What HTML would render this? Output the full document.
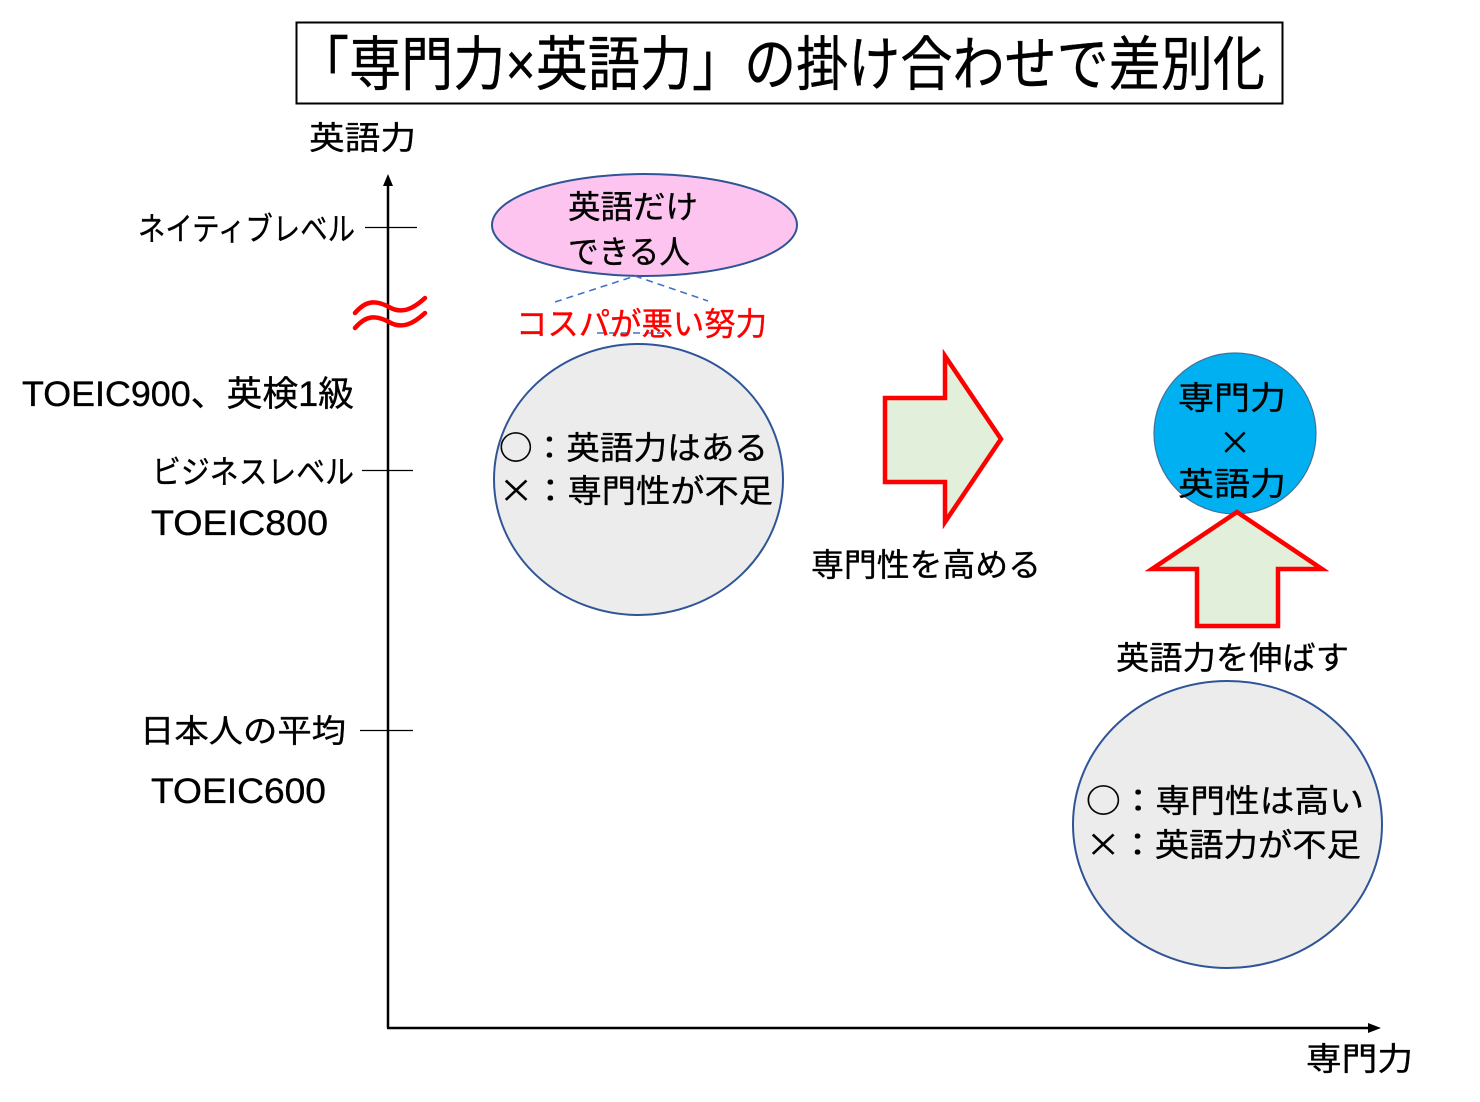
<!DOCTYPE html>
<html><head><meta charset="utf-8"><style>
html,body{margin:0;padding:0;background:#fff;}
svg{display:block;}
text{font-family:"Liberation Sans","Noto Sans CJK JP",sans-serif;fill:#000;stroke:#000;stroke-width:0.35;}
.cjk{font-family:"Noto Sans CJK JP","Liberation Sans",sans-serif;}
.red{fill:#ff0000;stroke:#ff0000;}
</style></head><body>
<svg width="1480" height="1102" viewBox="0 0 1480 1102" xmlns="http://www.w3.org/2000/svg">
<!-- title -->
<rect x="296.5" y="22.5" width="986" height="81" fill="#fff" stroke="#000" stroke-width="2"/>
<text x="297" y="85" font-size="59" textLength="968" lengthAdjust="spacingAndGlyphs">「専門力×英語力」の掛け合わせで差別化</text>

<!-- axes -->
<line x1="388" y1="184" x2="388" y2="1028" stroke="#000" stroke-width="2.5"/>
<polygon points="388,174 383,186 393,186" fill="#000"/>
<line x1="387" y1="1028" x2="1370" y2="1028" stroke="#000" stroke-width="2.5"/>
<polygon points="1381,1028 1368,1023 1368,1033" fill="#000"/>

<!-- ticks -->
<line x1="365" y1="227.5" x2="417" y2="227.5" stroke="#000" stroke-width="1.2"/>
<line x1="362" y1="470.5" x2="413" y2="470.5" stroke="#000" stroke-width="1.2"/>
<line x1="360" y1="730.5" x2="413" y2="730.5" stroke="#000" stroke-width="1.2"/>

<!-- axis labels -->
<text x="309" y="149" font-size="32" textLength="107" lengthAdjust="spacingAndGlyphs">英語力</text>
<text x="1306" y="1070" font-size="32" textLength="107" lengthAdjust="spacingAndGlyphs">専門力</text>

<!-- left labels -->
<text x="138" y="240" font-size="32" textLength="217" lengthAdjust="spacingAndGlyphs">ネイティブレベル</text>
<text x="22" y="406" font-size="35" textLength="332" lengthAdjust="spacingAndGlyphs">TOEIC900、英検1級</text>
<text x="152" y="483" font-size="32" textLength="202" lengthAdjust="spacingAndGlyphs">ビジネスレベル</text>
<text x="151" y="535" font-size="35" textLength="177" lengthAdjust="spacingAndGlyphs">TOEIC800</text>
<text x="140" y="742" font-size="32" textLength="206" lengthAdjust="spacingAndGlyphs">日本人の平均</text>
<text x="151" y="803" font-size="35" textLength="175" lengthAdjust="spacingAndGlyphs">TOEIC600</text>

<!-- squiggle -->
<path d="M355,313 C366,300 376,300 389,307 C401,314 412,310 425,298" fill="none" stroke="#ff0000" stroke-width="4.5" stroke-linecap="round"/>
<path d="M355,328 C366,315 376,315 389,322 C401,329 412,325 425,313" fill="none" stroke="#ff0000" stroke-width="4.5" stroke-linecap="round"/>

<!-- pink ellipse -->
<ellipse cx="644.5" cy="225" rx="152.5" ry="51" fill="#fcc4ee" stroke="#2f5597" stroke-width="2"/>
<text x="568" y="218" font-size="32" textLength="130" lengthAdjust="spacingAndGlyphs">英語だけ</text>
<text x="568" y="263" font-size="32" textLength="122" lengthAdjust="spacingAndGlyphs">できる人</text>

<!-- dashed callout -->
<polyline points="555,302 635,276 708,301" fill="none" stroke="#4472c4" stroke-width="1.6" stroke-dasharray="7,5"/>
<line x1="597" y1="333" x2="670" y2="333" stroke="#4472c4" stroke-width="1.6" stroke-dasharray="7,5"/>
<text class="red" x="516" y="335" font-size="32" textLength="251" lengthAdjust="spacingAndGlyphs">コスパが悪い努力</text>

<!-- gray circle 1 -->
<ellipse cx="638.5" cy="479.5" rx="144.5" ry="135.5" fill="#ececec" stroke="#2f5597" stroke-width="2"/>
<text class="cjk" x="499" y="459" font-size="32" textLength="269" lengthAdjust="spacingAndGlyphs">○：英語力はある</text>
<text class="cjk" x="499" y="502" font-size="32" textLength="274" lengthAdjust="spacingAndGlyphs">×：専門性が不足</text>

<!-- right arrow -->
<polygon points="885,398 945,398 945,356 1001,439 945,522 945,482 885,482" fill="#e2efda" stroke="#ff0000" stroke-width="4.5" stroke-linejoin="miter"/>
<text x="811" y="576" font-size="32" textLength="230" lengthAdjust="spacingAndGlyphs">専門性を高める</text>

<!-- blue circle -->
<ellipse cx="1235" cy="433.5" rx="81" ry="80.5" fill="#00b0f0" stroke="#41719c" stroke-width="1.2"/>
<text x="1178" y="409" font-size="32" textLength="108" lengthAdjust="spacingAndGlyphs">専門力</text>
<text class="cjk" x="1235" y="454" font-size="32" text-anchor="middle">×</text>
<text x="1178" y="495" font-size="32" textLength="108" lengthAdjust="spacingAndGlyphs">英語力</text>

<!-- up arrow -->
<polygon points="1237,512 1322,569 1278,569 1278,626 1197,626 1197,569 1152,569" fill="#e2efda" stroke="#ff0000" stroke-width="4.5" stroke-linejoin="miter"/>
<text x="1116" y="669" font-size="32" textLength="233" lengthAdjust="spacingAndGlyphs">英語力を伸ばす</text>

<!-- gray circle 2 -->
<ellipse cx="1227.5" cy="824.5" rx="154.5" ry="143.5" fill="#ececec" stroke="#2f5597" stroke-width="2"/>
<text class="cjk" x="1086" y="812" font-size="32" textLength="278" lengthAdjust="spacingAndGlyphs">○：専門性は高い</text>
<text class="cjk" x="1086" y="856" font-size="32" textLength="275" lengthAdjust="spacingAndGlyphs">×：英語力が不足</text>
</svg>
</body></html>
